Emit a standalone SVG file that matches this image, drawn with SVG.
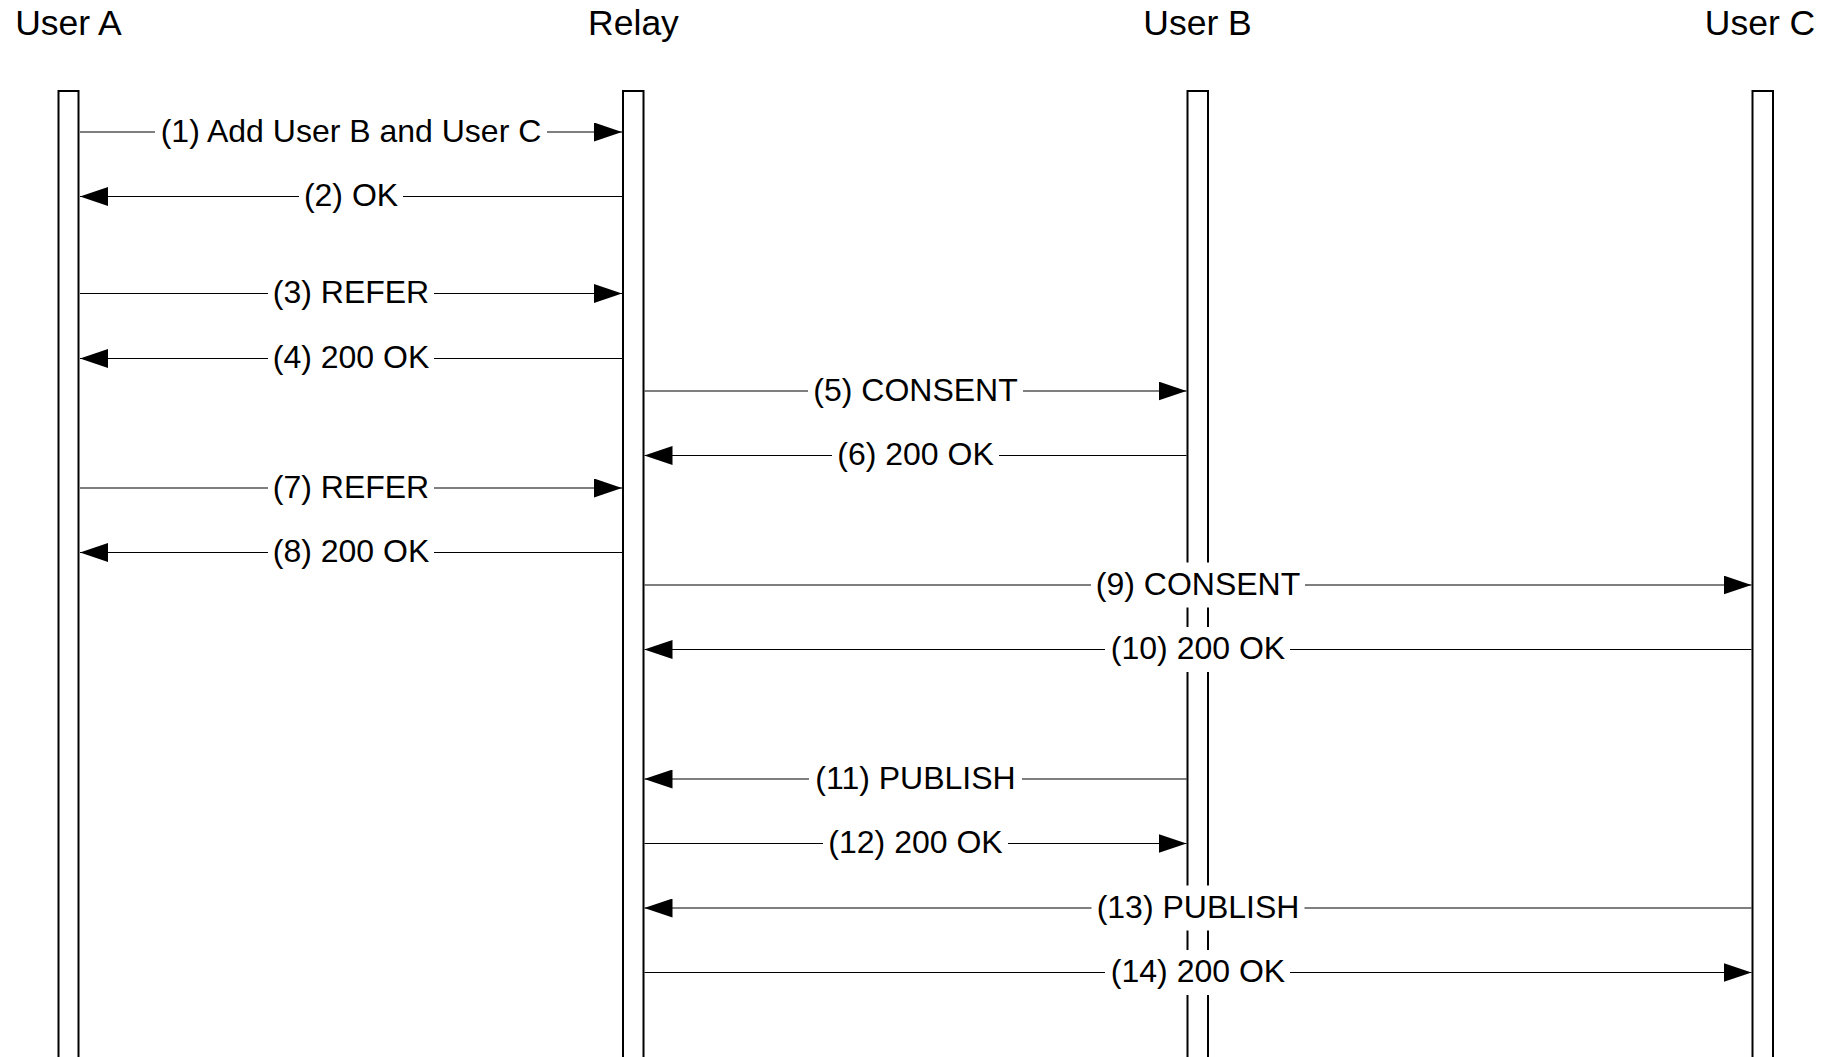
<svg xmlns="http://www.w3.org/2000/svg" width="1837" height="1057" viewBox="0 0 1837 1057">
<defs>
<style>
.title{font-family:"Liberation Sans",Arial,sans-serif;font-size:35.5px;fill:#000;text-anchor:middle}
.lbl{font-family:"Liberation Sans",Arial,sans-serif;font-size:32px;fill:#000;text-anchor:middle}
.life{fill:#fff;stroke:#000;stroke-width:2}
.msg{stroke:#000;stroke-width:1.2;fill:none;marker-end:url(#ah)}
.bg{fill:#fff;stroke:none}
</style>
<marker id="ah" viewBox="0 0 28 19" refX="28" refY="9.5" markerWidth="28" markerHeight="19" markerUnits="userSpaceOnUse" orient="auto">
<path d="M0,0 L28,9.5 L0,19 z" fill="#000"/>
</marker>
</defs>
<rect width="1837" height="1057" fill="#fff"/>
<g id="userA"><text class="title" x="68.5" y="35">User A</text><rect class="life" x="58.5" y="91" width="20" height="1000"/></g>
<g id="relay"><text class="title" x="633.5" y="35">Relay</text><rect class="life" x="623" y="91" width="20.5" height="1000"/></g>
<g id="userB"><text class="title" x="1197.5" y="35">User B</text><rect class="life" x="1187.5" y="91" width="20.5" height="1000"/></g>
<g id="userC"><text class="title" x="1760" y="35">User C</text><rect class="life" x="1752.5" y="91" width="20.5" height="1000"/></g>
<g id="connectors">
<line class="msg" x1="80" y1="132" x2="622" y2="132"/>
<line class="msg" x1="622" y1="196.5" x2="80" y2="196.5"/>
<line class="msg" x1="80" y1="293.5" x2="622" y2="293.5"/>
<line class="msg" x1="622" y1="358.5" x2="80" y2="358.5"/>
<line class="msg" x1="644.5" y1="391" x2="1186.5" y2="391"/>
<line class="msg" x1="1186.5" y1="455.5" x2="644.5" y2="455.5"/>
<line class="msg" x1="80" y1="488" x2="622" y2="488"/>
<line class="msg" x1="622" y1="552.5" x2="80" y2="552.5"/>
<line class="msg" x1="644.5" y1="585" x2="1751.5" y2="585"/>
<line class="msg" x1="1751.5" y1="649.5" x2="644.5" y2="649.5"/>
<line class="msg" x1="1186.5" y1="779" x2="644.5" y2="779"/>
<line class="msg" x1="644.5" y1="843.5" x2="1186.5" y2="843.5"/>
<line class="msg" x1="1751.5" y1="908" x2="644.5" y2="908"/>
<line class="msg" x1="644.5" y1="972.5" x2="1751.5" y2="972.5"/>
</g>
<g id="labels">
<rect class="bg" x="155" y="109.5" width="392" height="45"/><text class="lbl" x="351" y="141.5">(1) Add User B and User C</text>
<rect class="bg" x="299" y="174" width="104" height="45"/><text class="lbl" x="351" y="206">(2) OK</text>
<rect class="bg" x="268" y="271" width="166" height="45"/><text class="lbl" x="351" y="303">(3) REFER</text>
<rect class="bg" x="268" y="336" width="166" height="45"/><text class="lbl" x="351" y="368">(4) 200 OK</text>
<rect class="bg" x="808" y="368.5" width="215" height="45"/><text class="lbl" x="915.5" y="400.5">(5) CONSENT</text>
<rect class="bg" x="832" y="433" width="167" height="45"/><text class="lbl" x="915.5" y="465">(6) 200 OK</text>
<rect class="bg" x="268" y="465.5" width="166" height="45"/><text class="lbl" x="351" y="497.5">(7) REFER</text>
<rect class="bg" x="268" y="530" width="166" height="45"/><text class="lbl" x="351" y="562">(8) 200 OK</text>
<rect class="bg" x="1091" y="562.5" width="214" height="45"/><text class="lbl" x="1198" y="594.5">(9) CONSENT</text>
<rect class="bg" x="1105" y="627" width="185" height="45"/><text class="lbl" x="1198" y="659">(10) 200 OK</text>
<rect class="bg" x="809" y="756.5" width="213" height="45"/><text class="lbl" x="915.5" y="788.5">(11) PUBLISH</text>
<rect class="bg" x="823" y="821" width="185" height="45"/><text class="lbl" x="915.5" y="853">(12) 200 OK</text>
<rect class="bg" x="1091.5" y="885.5" width="213" height="45"/><text class="lbl" x="1198" y="917.5">(13) PUBLISH</text>
<rect class="bg" x="1105" y="950" width="185" height="45"/><text class="lbl" x="1198" y="982">(14) 200 OK</text>
</g>
</svg>
